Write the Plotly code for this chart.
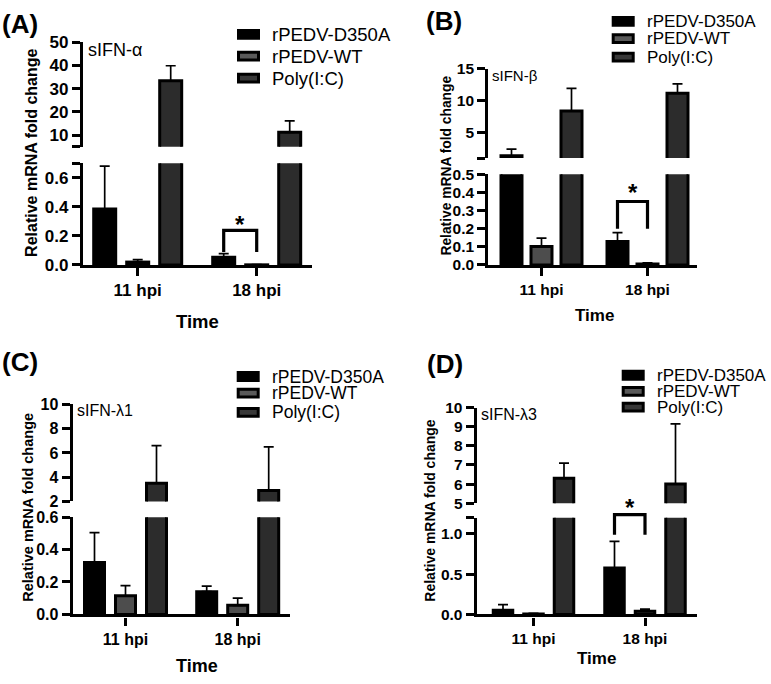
import plotly.graph_objects as go

W, H = 771, 684

# ---------------- data ----------------
categories = ["11 hpi", "18 hpi"]
series_names = ["rPEDV-D350A", "rPEDV-WT", "Poly(I:C)"]

# Panel A: sIFN-alpha
a_d350a = [0.386, 0.054]
a_d350a_err = [0.294, 0.024]
a_wt = [0.02, 0.001]
a_wt_err = [0.017, 0.001]
a_poly = [33.4, 11.2]
a_poly_err = [6.5, 4.9]

# Panel B: sIFN-beta
b_d350a = [1.36, 0.13]
b_d350a_err = [1.04, 0.048]
b_wt = [0.102, 0.005]
b_wt_err = [0.046, 0.007]
b_poly = [8.35, 11.14]
b_poly_err = [3.55, 1.46]

# Panel C: sIFN-lambda1
c_d350a = [0.32, 0.14]
c_d350a_err = [0.185, 0.035]
c_wt = [0.115, 0.056]
c_wt_err = [0.062, 0.044]
c_poly = [3.5, 2.9]
c_poly_err = [3.1, 3.6]

# Panel D: sIFN-lambda3
d_d350a = [0.052, 0.577]
d_d350a_err = [0.069, 0.33]
d_wt = [0.005, 0.04]
d_wt_err = [0.008, 0.025]
d_poly = [6.3, 6.0]
d_poly_err = [0.8, 3.15]

# tick labels
a_up_ticks = [5, 10, 20, 30, 40, 50]
a_up_text = ["", "10", "20", "30", "40", "50"]
a_low_ticks = [0, 0.2, 0.4, 0.6, 0.7]
a_low_text = ["0.0", "0.2", "0.4", "0.6", ""]
b_up_ticks = [1, 5, 10, 15]
b_up_text = ["", "5", "10", "15"]
b_low_ticks = [0, 0.1, 0.2, 0.3, 0.4, 0.5]
b_low_text = ["0.0", "0.1", "0.2", "0.3", "0.4", "0.5"]
c_up_ticks = [2, 4, 6, 8, 10]
c_up_text = ["2", "4", "6", "8", "10"]
c_low_ticks = [0, 0.2, 0.4, 0.6]
c_low_text = ["0.0", "0.2", "0.4", "0.6"]
d_up_ticks = [5, 6, 7, 8, 9, 10]
d_up_text = ["5", "6", "7", "8", "9", "10"]
d_low_ticks = [0, 0.5, 1.0, 1.2]
d_low_text = ["0.0", "0.5", "1.0", ""]

# ---------------- styling / layout config ----------------
FONT = '"Liberation Sans", Arial, Helvetica, sans-serif'
bar_fills = ["#000000", "#4d4d4d", "#2c2c2c"]
legend_fills = ["#000000", "#5a5a5a", "#383838"]
AX_LW = 3.2

panels = [
    dict(tag="(A)", gene="sIFN-α",
         vals=[a_d350a, a_wt, a_poly], errs=[a_d350a_err, a_wt_err, a_poly_err],
         up_range=[5, 50], low_range=[0, 0.7],
         up_ticks=(a_up_ticks, a_up_text), low_ticks=(a_low_ticks, a_low_text),
         yx=83, xr=312, cat0=137.7, cat1=256.7, boff=33, bw=22,
         up_top=34.3, up_bot=141.6, low_top=158.7, low_bot=263.3,
         fs_tick=17, fs_title=16, fs_time=18.5, fs_leg=18.5, fs_gene=18,
         title_xy=(32, 148), time_xy=(197.5, 321), tag_xy=(0, 15),
         gene_xy=(86, 42), leg_x=237, leg_rows=[26, 48.5, 71],
         bracket=dict(top=0.238, l=0.09, r=0.09, star=0.323)),
    dict(tag="(B)", gene="sIFN-β",
         vals=[b_d350a, b_wt, b_poly], errs=[b_d350a_err, b_wt_err, b_poly_err],
         up_range=[1, 15], low_range=[0, 0.5],
         up_ticks=(b_up_ticks, b_up_text), low_ticks=(b_low_ticks, b_low_text),
         yx=488.3, xr=696.7, cat0=541.5, cat1=647.5, boff=30, bw=21,
         up_top=61.2, up_bot=153.3, low_top=170, low_bot=263.3,
         fs_tick=15.5, fs_title=13.8, fs_time=17, fs_leg=17, fs_gene=15,
         title_xy=(447, 161), time_xy=(594, 315), tag_xy=(424, 12),
         gene_xy=(490, 68), leg_x=611.7, leg_rows=[12.8, 30.5, 49.5],
         bracket=dict(top=0.35, l=0.2, r=0.2, star=0.43)),
    dict(tag="(C)", gene="sIFN-λ1",
         vals=[c_d350a, c_wt, c_poly], errs=[c_d350a_err, c_wt_err, c_poly_err],
         up_range=[2, 10], low_range=[0, 0.6],
         up_ticks=(c_up_ticks, c_up_text), low_ticks=(c_low_ticks, c_low_text),
         yx=72.7, xr=290, cat0=125.5, cat1=237.7, boff=31, bw=20,
         up_top=406.7, up_bot=506.5, low_top=522.7, low_bot=622.7,
         fs_tick=16, fs_title=14.5, fs_time=18, fs_leg=17.5, fs_gene=16,
         title_xy=(28, 513), time_xy=(197.5, 676), tag_xy=(0, 363),
         gene_xy=(75, 413), leg_x=236.7, leg_rows=[378, 395, 415],
         bracket=None),
    dict(tag="(D)", gene="sIFN-λ3",
         vals=[d_d350a, d_wt, d_poly], errs=[d_d350a_err, d_wt_err, d_poly_err],
         up_range=[5, 10], low_range=[0, 1.2],
         up_ticks=(d_up_ticks, d_up_text), low_ticks=(d_low_ticks, d_low_text),
         yx=476.7, xr=696.7, cat0=533.5, cat1=645, boff=30.5, bw=19.5,
         up_top=410, up_bot=508.3, low_top=523.3, low_bot=622.7,
         fs_tick=15.5, fs_title=14, fs_time=17, fs_leg=17, fs_gene=16,
         title_xy=(430, 516), time_xy=(596, 668), tag_xy=(425, 365),
         gene_xy=(479, 417), leg_x=621.7, leg_rows=[376.7, 393.3, 409.5],
         bracket=dict(top=1.24, l=0.99, r=0.99, star=1.40)),
]


def px(x):
    return x / W


def py(y):
    return 1 - y / H


fig = go.Figure()
layout = dict(width=W, height=H, margin=dict(l=0, r=0, t=0, b=0),
              paper_bgcolor="white", plot_bgcolor="rgba(0,0,0,0)",
              barmode="overlay", showlegend=False,
              font=dict(family=FONT, color="black"))
shapes = []
annotations = []

xpos = list(range(len(categories)))

for k, p in enumerate(panels):
    xi = k + 1
    ylo = 2 * k + 1
    yup = 2 * k + 2
    xname = "x" if xi == 1 else f"x{xi}"
    ylo_name = "y" if ylo == 1 else f"y{ylo}"
    yup_name = f"y{yup}"
    ppu = p["cat1"] - p["cat0"]
    xr0 = (p["yx"] - p["cat0"]) / ppu
    xr1 = (p["xr"] - p["cat0"]) / ppu
    bw = p["bw"] / ppu
    offs = [-p["boff"] / ppu, 0.0, p["boff"] / ppu]

    for i in range(3):
        for yname in (ylo_name, yup_name):
            fig.add_trace(go.Bar(
                x=xpos, y=p["vals"][i], xaxis=xname, yaxis=yname,
                offset=offs[i] - bw / 2, width=bw,
                marker=dict(color=bar_fills[i], line=dict(color="black", width=3)),
                error_y=dict(type="data", symmetric=False, array=p["errs"][i],
                             arrayminus=[0] * len(categories), color="black",
                             thickness=1.7, width=5),
                name=series_names[i], showlegend=False, hoverinfo="skip"))

    common_y = dict(showline=True, linewidth=AX_LW, linecolor="black",
                    ticks="outside", ticklen=8, tickwidth=AX_LW, tickcolor="black",
                    showgrid=False, zeroline=False, fixedrange=True,
                    tickfont=dict(family=FONT, size=p["fs_tick"], weight="bold", color="black"),
                    anchor=xname)
    layout["xaxis" if xi == 1 else f"xaxis{xi}"] = dict(
        domain=[px(p["yx"]), px(p["xr"])], range=[xr0, xr1], anchor=ylo_name,
        showline=True, linewidth=AX_LW, linecolor="black", ticks="outside",
        ticklen=8, tickwidth=AX_LW, tickcolor="black", showgrid=False, zeroline=False,
        tickvals=xpos, ticktext=categories, fixedrange=True,
        tickfont=dict(family=FONT, size=p["fs_tick"], weight="bold", color="black"))
    layout["yaxis" if ylo == 1 else f"yaxis{ylo}"] = dict(
        common_y, domain=[py(p["low_bot"]), py(p["low_top"])], range=p["low_range"],
        tickvals=p["low_ticks"][0], ticktext=p["low_ticks"][1])
    layout[f"yaxis{yup}"] = dict(
        common_y, domain=[py(p["up_bot"]), py(p["up_top"])], range=p["up_range"],
        tickvals=p["up_ticks"][0], ticktext=p["up_ticks"][1])

    # y-axis title
    tx, ty = p["title_xy"]
    annotations.append(dict(x=px(tx), y=py(ty), xref="paper", yref="paper",
                            text="Relative mRNA fold change", textangle=-90, showarrow=False,
                            xanchor="center", yanchor="middle",
                            font=dict(family=FONT, size=p["fs_title"], weight="bold")))
    # x-axis title
    tx, ty = p["time_xy"]
    annotations.append(dict(x=px(tx), y=py(ty), xref="paper", yref="paper", text="Time",
                            showarrow=False, xanchor="center", yanchor="middle",
                            font=dict(family=FONT, size=p["fs_time"], weight="bold")))
    # panel tag
    tx, ty = p["tag_xy"]
    annotations.append(dict(x=px(tx), y=py(ty), xref="paper", yref="paper", text=p["tag"],
                            showarrow=False, xanchor="left", yanchor="middle",
                            font=dict(family=FONT, size=26, weight="bold")))
    # gene label
    tx, ty = p["gene_xy"]
    annotations.append(dict(x=px(tx), y=py(ty), xref="paper", yref="paper", text=p["gene"],
                            showarrow=False, xanchor="left", yanchor="middle",
                            font=dict(family=FONT, size=p["fs_gene"])))
    # legend
    for i, (name, cy) in enumerate(zip(series_names, p["leg_rows"])):
        shapes.append(dict(type="rect", xref="paper", yref="paper",
                           x0=px(p["leg_x"] + 1.5), x1=px(p["leg_x"] + 21.5),
                           y0=py(cy + 4), y1=py(cy - 4),
                           fillcolor=legend_fills[i],
                           line=dict(color="black", width=3)))
        annotations.append(dict(x=px(p["leg_x"] + 34), y=py(cy), xref="paper", yref="paper",
                                text=name, showarrow=False, xanchor="left", yanchor="middle",
                                borderpad=0,
                                font=dict(family=FONT, size=p["fs_leg"])))
    # significance bracket (18 hpi: D350A vs WT)
    br = p["bracket"]
    if br:
        def fx(v):
            return (v - xr0) / (xr1 - xr0)

        def fy(v):
            r = p["low_range"]
            return (v - r[0]) / (r[1] - r[0])

        x0 = fx(xpos[1] + offs[0])
        x1 = fx(xpos[1] + offs[1])
        path = (f"M {x0},{fy(br['l'])} L {x0},{fy(br['top'])} "
                f"L {x1},{fy(br['top'])} L {x1},{fy(br['r'])}")
        shapes.append(dict(type="path", path=path, xref=f"{xname} domain",
                           yref=f"{ylo_name} domain", line=dict(color="black", width=3.2)))
        annotations.append(dict(x=(x0 + x1) / 2, y=fy(br["star"]), xref=f"{xname} domain",
                                yref=f"{ylo_name} domain", text="*", showarrow=False,
                                xanchor="center", yanchor="middle", yshift=-6,
                                font=dict(family=FONT, size=24, weight="bold")))

layout["shapes"] = shapes
layout["annotations"] = annotations
fig.update_layout(**layout)
fig.write_html("out.html", config={"displayModeBar": False},
               post_script="document.body.style.margin='0';document.body.style.padding='0';")
